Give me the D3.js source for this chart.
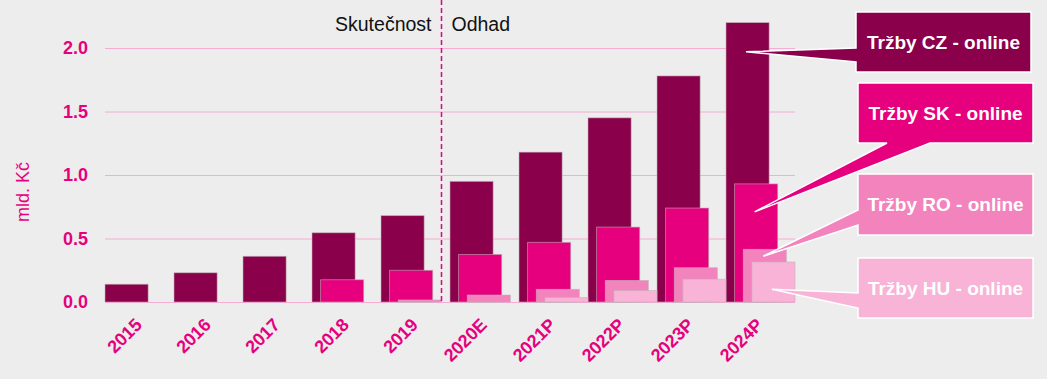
<!DOCTYPE html>
<html>
<head>
<meta charset="utf-8">
<script src="https://d3js.org/d3.v7.min.js"></script>
<style>
  body { margin: 0; background: #ededed; }
  svg { display: block; font-family: "Liberation Sans", Arial, sans-serif; }
</style>
</head>
<body>
<div id="chart"></div>
<script>
// values in mld. Kč
var years = ["2015", "2016", "2017", "2018", "2019", "2020E", "2021P", "2022P", "2023P", "2024P"];
var czOnline = [0.14, 0.23, 0.36, 0.545, 0.68, 0.95, 1.18, 1.45, 1.78, 2.2];
var skOnline = [0, 0, 0, 0.175, 0.25, 0.375, 0.47, 0.59, 0.74, 0.93];
var roOnline = [0, 0, 0, 0, 0.016, 0.055, 0.10, 0.17, 0.27, 0.415];
var huOnline = [0, 0, 0, 0, 0, 0, 0.035, 0.09, 0.18, 0.315];
var yTicks = [0, 0.5, 1.0, 1.5, 2.0];
var seriesNames = ["Tržby CZ - online", "Tržby SK - online", "Tržby RO - online", "Tržby HU - online"];
var seriesColors = ["#8b004b", "#e6007e", "#f283bd", "#f8b3d7"];

var W = 1047, H = 379;
var svg = d3.select("#chart").append("svg").attr("width", W).attr("height", H);
svg.append("rect").attr("width", W).attr("height", H).attr("fill", "#ededed");

var x = d3.scaleBand().domain(years).range([105, 795]).padding(0);
var y = d3.scaleLinear().domain([0, 2]).range([302, 48]);
var step = x.step();
var off = step * 0.125, bw = step * 0.625;

// grid
svg.append("g").selectAll("line").data(yTicks).enter().append("line")
  .attr("x1", 105).attr("x2", 795)
  .attr("y1", function (d) { return y(d) + 0.5; })
  .attr("y2", function (d) { return y(d) + 0.5; })
  .attr("stroke", "#f6acd3").attr("stroke-width", 1);

// y tick labels
svg.append("g").selectAll("text").data(yTicks).enter().append("text")
  .attr("x", 88).attr("y", function (d) { return y(d); })
  .attr("dy", "0.36em").attr("text-anchor", "end")
  .attr("fill", "#e6007e").attr("font-weight", "bold").attr("font-size", "18px")
  .text(function (d) { return d.toFixed(1); });

svg.append("text")
  .attr("transform", "translate(29,192) rotate(-90)")
  .attr("text-anchor", "middle")
  .attr("fill", "#e6007e").attr("font-size", "18px")
  .text("mld. Kč");

// bars
var series = [czOnline, skOnline, roOnline, huOnline];
series.forEach(function (vals, si) {
  var rows = vals.map(function (v, i) { return { year: years[i], value: v }; })
    .filter(function (r) { return r.value > 0; });
  svg.append("g").selectAll("rect").data(rows).enter().append("rect")
    .attr("x", function (d) { return x(d.year) + si * off; })
    .attr("y", function (d) { return y(d.value); })
    .attr("width", bw)
    .attr("height", function (d) { return y(0) - y(d.value); })
    .attr("fill", seriesColors[si])
    .attr("stroke", "rgba(190,180,185,0.7)").attr("stroke-width", 0.8);
});

// x tick labels
svg.append("g").selectAll("text").data(years).enter().append("text")
  .attr("transform", function (d) {
    return "translate(" + (x(d) + step / 2 + 3.5) + ",326) rotate(-45)";
  })
  .attr("text-anchor", "end")
  .attr("fill", "#e6007e").attr("font-weight", "bold").attr("font-size", "18px")
  .text(function (d) { return d; });

// actual / estimate divider
var divX = Math.round(x("2020E") - off) + 0.5;
svg.append("line")
  .attr("x1", divX).attr("x2", divX).attr("y1", 0).attr("y2", y(0))
  .attr("stroke", "#e6007e").attr("stroke-width", 1.5)
  .attr("stroke-dasharray", "5,3");
svg.append("text").attr("x", divX - 10).attr("y", 31)
  .attr("text-anchor", "end").attr("font-size", "19.5px").attr("fill", "#111")
  .text("Skutečnost");
svg.append("text").attr("x", divX + 10).attr("y", 31)
  .attr("font-size", "19.5px").attr("fill", "#111")
  .text("Odhad");

// callouts
var last = years[years.length - 1];
var callouts = [
  { box: [856, 12, 1031, 72], tipVal: 1.97, side: "left", base: [48, 62] },
  { box: [858, 83, 1033, 143], tipVal: 0.71, side: "bottom", base: [887, 930] },
  { box: [858, 174, 1033, 235], tipVal: 0.36, side: "left", base: [210, 225] },
  { box: [858, 258, 1033, 318], tipVal: 0.10, side: "left", base: [293, 308] }
];
callouts.forEach(function (c, si) {
  var b = c.box;
  var tx = x(last) + si * off + 20, ty = y(c.tipVal);
  var p = d3.path();
  if (c.side === "left") {
    p.moveTo(b[0], b[1]); p.lineTo(b[2], b[1]); p.lineTo(b[2], b[3]); p.lineTo(b[0], b[3]);
    p.lineTo(b[0], c.base[1]); p.lineTo(tx, ty); p.lineTo(b[0], c.base[0]);
  } else {
    p.moveTo(b[0], b[1]); p.lineTo(b[2], b[1]); p.lineTo(b[2], b[3]);
    p.lineTo(c.base[1], b[3]); p.lineTo(tx, ty); p.lineTo(c.base[0], b[3]); p.lineTo(b[0], b[3]);
  }
  p.closePath();
  svg.append("path").attr("d", p.toString())
    .attr("fill", seriesColors[si]).attr("stroke", "#fff").attr("stroke-width", 1.5)
    .attr("stroke-linejoin", "miter");
  svg.append("text")
    .attr("x", (b[0] + b[2]) / 2).attr("y", (b[1] + b[3]) / 2)
    .attr("dy", "0.36em").attr("text-anchor", "middle")
    .attr("fill", "#fff").attr("font-weight", "bold").attr("font-size", "19px")
    .text(seriesNames[si]);
});
</script>
</body>
</html>
